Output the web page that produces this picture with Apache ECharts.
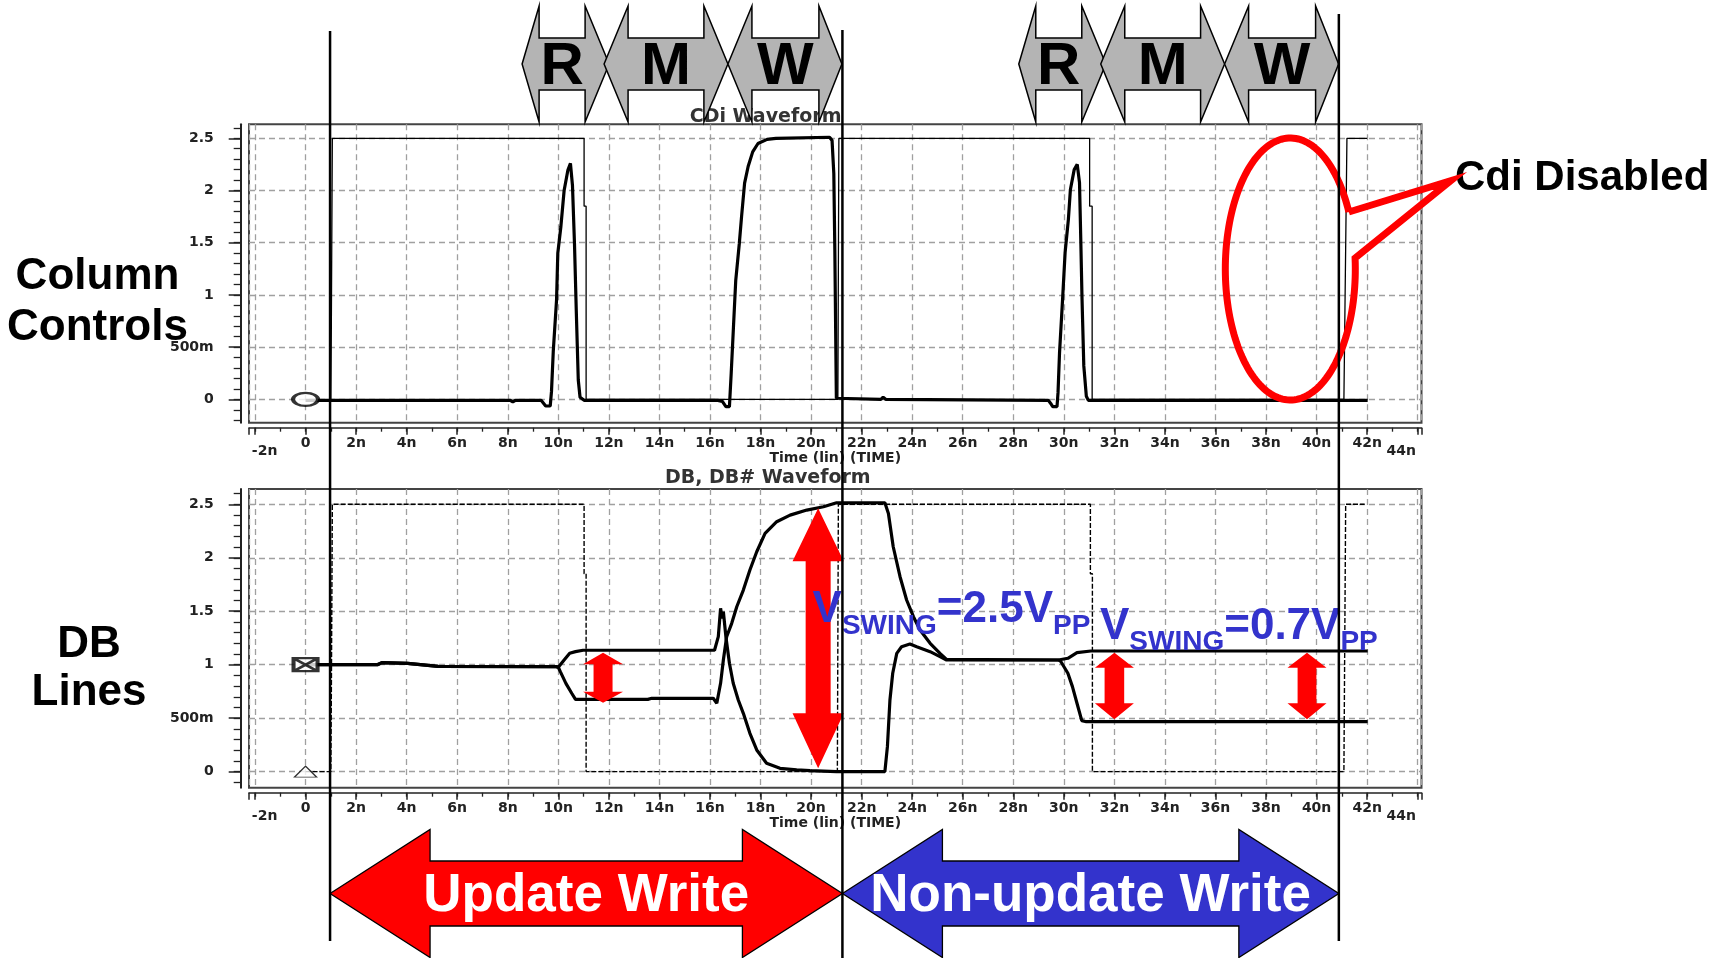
<!DOCTYPE html>
<html>
<head>
<meta charset="utf-8">
<script src="https://cdn.jsdelivr.net/npm/echarts@6.0.0/dist/echarts.min.js"></script>
<style>
html,body{margin:0;padding:0;background:#ffffff;}
#chart{width:1731px;height:958px;}
</style>
</head>
<body>
<div id="chart"></div>
<script>
// ---------------- axis ticks & labels ----------------
const xTickMajor = [-2,0,2,4,6,8,10,12,14,16,18,20,22,24,26,28,30,32,34,36,38,40,42,44];
const xTickLabels = [0,2,4,6,8,10,12,14,16,18,20,22,24,26,28,30,32,34,36,38,40,42];
const xTickMinor = [-2,-1,0,1,2,3,4,5,6,7,8,9,10,11,12,13,14,15,16,17,18,19,20,21,22,23,24,25,26,27,28,29,30,31,32,33,34,35,36,37,38,39,40,41,42,43,44];
const xEdgeLabelPos = [-1.62, 43.35];
const xEdgeLabelText = ['-2n', '44n'];
const yTickMajor = [0, 0.5, 1, 1.5, 2, 2.5];
const yTickMinorTop = [-0.2,-0.1,0,0.1,0.2,0.3,0.4,0.5,0.6,0.7,0.8,0.9,1,1.1,1.2,1.3,1.4,1.5,1.6,1.7,1.8,1.9,2,2.1,2.2,2.3,2.4,2.5,2.6];
const yTickMinorBottom = [-0.1,0,0.1,0.2,0.3,0.4,0.5,0.6,0.7,0.8,0.9,1,1.1,1.2,1.3,1.4,1.5,1.6,1.7,1.8,1.9,2,2.1,2.2,2.3,2.4,2.5,2.6];

// ---------------- texts ----------------
const panelTitles = ['CDi Waveform', 'DB, DB# Waveform'];
const xAxisTitle = 'Time (lin) (TIME)';
const sideLabels = [['Column', 'Controls'], ['DB', 'Lines']];
const calloutText = 'Cdi Disabled';
const phaseLetters = ['R', 'M', 'W'];
const writeLabels = ['Update Write', 'Non-update Write'];
const swingTexts = [['V', 'SWING', '=2.5V', 'PP'], ['V', 'SWING', '=0.7V', 'PP']];

// ---------------- series data: [time ns, volts] ----------------
const cdiReference = [[1.0,0],[1.02,0.68],[1.06,2.5],[11.02,2.5],[11.02,1.85],[11.1,1.85],[11.1,0],[21.06,0],[21.1,2.5],[31.02,2.5],[31.02,1.85],[31.12,1.85],[31.12,0],[41.08,0],[41.2,2.5],[42.0,2.5]];
const cdiSignal = [[0,-0.01],[8.1,-0.01],[8.2,-0.025],[8.3,-0.01],[9.32,-0.01],[9.5,-0.064],[9.68,-0.064],[9.73,0.073],[9.8,0.456],[9.93,0.951],[9.98,1.4],[10.1,1.65],[10.23,2.0],[10.38,2.196],[10.48,2.26],[10.56,2.05],[10.64,1.49],[10.71,0.855],[10.79,0.185],[10.86,0.02],[11.02,-0.01],[16.31,-0.01],[16.49,-0.02],[16.63,-0.07],[16.77,-0.07],[16.84,0.25],[16.93,0.695],[17.02,1.14],[17.16,1.49],[17.25,1.75],[17.37,2.07],[17.51,2.23],[17.69,2.37],[17.9,2.45],[18.26,2.49],[18.61,2.5],[20.73,2.51],[20.83,2.48],[20.9,2.16],[20.94,1.43],[21.0,0.01],[22.76,0.0],[22.85,0.02],[22.95,0.0],[29.39,-0.01],[29.48,-0.04],[29.56,-0.07],[29.73,-0.07],[29.77,0.064],[29.83,0.447],[29.95,0.958],[30.05,1.405],[30.18,1.724],[30.26,2.01],[30.41,2.2],[30.53,2.25],[30.62,2.075],[30.67,1.53],[30.72,0.958],[30.79,0.32],[30.89,0.03],[30.97,-0.01],[42.02,-0.01]];
const dbReference = [[0,0],[1.0,0],[1.02,0.68],[1.06,2.5],[11.02,2.5],[11.02,1.85],[11.1,1.85],[11.1,0],[21.04,0],[21.08,2.5],[31.05,2.5],[31.05,1.85],[31.13,1.85],[31.13,0],[41.08,0],[41.15,2.5],[41.9,2.5]];
const dbLine = [[0,1.0],[2.84,1.0],[3.02,1.02],[4.04,1.013],[5.25,0.985],[9.92,0.982],[10.0,0.976],[10.23,1.044],[10.45,1.107],[10.68,1.122],[10.98,1.135],[16.18,1.135],[16.33,1.262],[16.42,1.527],[16.48,1.433],[16.53,1.495],[16.63,1.262],[16.77,1.013],[16.92,0.826],[17.12,0.67],[17.32,0.545],[17.58,0.358],[17.85,0.203],[18.24,0.078],[18.77,0.031],[19.43,0.016],[19.96,0.01],[21.01,0.0],[22.92,0.0],[23.02,0.234],[23.12,0.67],[23.23,0.92],[23.39,1.106],[23.58,1.168],[23.91,1.193],[24.18,1.168],[24.71,1.122],[25.1,1.075],[25.36,1.044],[29.79,1.044],[30.16,1.06],[30.52,1.113],[31.07,1.128],[42.02,1.128]];
const dbBarLine = [[0,1.0],[2.84,1.0],[3.02,1.02],[4.04,1.013],[5.25,0.985],[9.92,0.982],[10.0,0.976],[10.08,0.935],[10.3,0.826],[10.53,0.733],[10.68,0.676],[13.54,0.676],[13.7,0.686],[16.13,0.686],[16.27,0.639],[16.33,0.623],[16.42,0.826],[16.53,1.044],[16.66,1.262],[16.86,1.387],[17.06,1.542],[17.32,1.698],[17.58,1.885],[17.85,2.056],[18.18,2.228],[18.64,2.337],[19.17,2.399],[19.83,2.446],[20.49,2.477],[21.01,2.514],[22.92,2.514],[23.06,2.414],[23.25,2.103],[23.52,1.823],[23.78,1.605],[24.05,1.449],[24.31,1.324],[24.71,1.2],[25.1,1.106],[25.36,1.05],[29.79,1.044],[29.88,1.03],[30.16,0.92],[30.34,0.795],[30.52,0.64],[30.71,0.477],[30.89,0.467],[42.02,0.467]];
const cdiStartMarker = [[0, 0]];
const dbStartMarker = [[0, 1]];
const dbRefStartMarker = [[0, 0]];

// ---------------- annotation anchors (data coords) ----------------
const cursorTimes = [0.97, 21.24, 40.88];
const rmwPhases = [[9.24, 11.06], [12.76, 15.76], [17.66, 20.31]];
const rmwGroupShift = [0, 19.65];
const swingArrows = [[11.77, 1.113, 0.645], [20.28, 2.463, 0.032], [32.0, 1.113, 0.49], [39.62, 1.113, 0.49]];
const swingLabelAnchors = [[20.06, 1.371], [31.43, 1.215]];
const disabledEllipseCenter = [38.96, 1.248];
const calloutTip = [45.31, 2.094];

// ---------------- layout constants ----------------
const X_MIN = -2.237, X_MAX = 44.15;
const Y_RANGE = [[-0.224, 2.634], [-0.15, 2.643]];
const GRIDS = [
  {left: 249, top: 124.3, width: 1172.5, height: 298.4},
  {left: 249, top: 489, width: 1172.5, height: 298.7}
];
const LABEL_FONT = {fontFamily: 'DejaVu Sans', fontWeight: 'bold', fontSize: 14, color: '#222'};
const fmtX = v => (Math.abs(v) < 1e-9 ? '0' : Math.round(v) + 'n');
const fmtY = v => (v === 0.5 ? '500m' : String(v));
const gridLine = {show: true, lineStyle: {color: '#a0a0a0', width: 1.3, type: [6, 4]}};

const xAxes = [], yAxes = [];
GRIDS.forEach((g, gi) => {
  xAxes.push({
    gridIndex: gi, type: 'value', min: X_MIN, max: X_MAX, position: 'bottom', offset: 5,
    axisLine: {show: true, onZero: false, lineStyle: {color: '#222', width: 1.5}},
    axisTick: {show: true, customValues: xTickMajor.concat([X_MIN, X_MAX]), length: 7, lineStyle: {color: '#222', width: 1.5}},
    axisLabel: Object.assign({show: true, customValues: xTickLabels, formatter: fmtX, margin: 9}, LABEL_FONT),
    splitLine: gridLine,
    name: xAxisTitle, nameLocation: 'middle', nameGap: 21,
    nameTextStyle: {fontFamily: 'DejaVu Sans', fontWeight: 'bold', fontSize: 14, color: '#222'}
  });
  xAxes.push({
    gridIndex: gi, type: 'value', min: X_MIN, max: X_MAX, position: 'bottom', offset: 5,
    axisLine: {show: false, onZero: false},
    axisTick: {show: true, customValues: xTickMinor, length: 4, lineStyle: {color: '#222', width: 1.3}},
    axisLabel: {show: false}, splitLine: {show: false}
  });
  xAxes.push({
    gridIndex: gi, type: 'value', min: X_MIN, max: X_MAX, position: 'bottom', offset: 5,
    axisLine: {show: false, onZero: false}, axisTick: {show: false},
    axisLabel: Object.assign({show: true, customValues: xEdgeLabelPos, formatter: v => (v < 0 ? xEdgeLabelText[0] : xEdgeLabelText[1]), margin: 16.5}, LABEL_FONT),
    splitLine: {show: false}
  });
  yAxes.push({
    gridIndex: gi, type: 'value', min: Y_RANGE[gi][0], max: Y_RANGE[gi][1], position: 'left', offset: 8.3,
    axisLine: {show: true, onZero: false, lineStyle: {color: '#222', width: 2}},
    axisTick: {show: true, customValues: yTickMajor, length: 12, lineStyle: {color: '#222', width: 1.5}},
    axisLabel: Object.assign({show: true, customValues: yTickMajor, formatter: fmtY, margin: 27}, LABEL_FONT),
    splitLine: gridLine
  });
  yAxes.push({
    gridIndex: gi, type: 'value', min: Y_RANGE[gi][0], max: Y_RANGE[gi][1], position: 'left', offset: 8.3,
    axisLine: {show: false, onZero: false},
    axisTick: {show: true, customValues: gi === 0 ? yTickMinorTop : yTickMinorBottom, length: 7, lineStyle: {color: '#222', width: 1.3}},
    axisLabel: {show: false}, splitLine: {show: false}
  });
});

const lineBase = {type: 'line', showSymbol: false, symbol: 'none', silent: true, animation: false};
const option = {
  backgroundColor: '#ffffff',
  animation: false,
  grid: GRIDS.map(g => Object.assign({show: true, borderColor: '#444', borderWidth: 2, backgroundColor: 'transparent', containLabel: false}, g)),
  xAxis: xAxes,
  yAxis: yAxes,
  series: [
    Object.assign({}, lineBase, {name: 'CDi ref', xAxisIndex: 0, yAxisIndex: 0, data: cdiReference, z: 2, lineStyle: {color: '#000', width: 1.3}}),
    Object.assign({}, lineBase, {name: 'CDi', xAxisIndex: 0, yAxisIndex: 0, data: cdiSignal, z: 3, lineStyle: {color: '#000', width: 3.2}}),
    {type: 'scatter', xAxisIndex: 0, yAxisIndex: 0, data: cdiStartMarker, symbol: 'circle', symbolSize: [25, 13], silent: true, z: 4,
     itemStyle: {color: '#ffffff', borderColor: '#000', borderWidth: 3}},
    Object.assign({}, lineBase, {name: 'DB ref', xAxisIndex: 3, yAxisIndex: 2, data: dbReference, z: 2, lineStyle: {color: '#000', width: 1.4, type: [5, 2]}}),
    Object.assign({}, lineBase, {name: 'DB', xAxisIndex: 3, yAxisIndex: 2, data: dbLine, z: 3, lineStyle: {color: '#000', width: 3.2}}),
    Object.assign({}, lineBase, {name: 'DB#', xAxisIndex: 3, yAxisIndex: 2, data: dbBarLine, z: 3, lineStyle: {color: '#000', width: 3.2}}),
    {type: 'scatter', xAxisIndex: 3, yAxisIndex: 2, data: dbStartMarker, symbol: 'path://M0,0L24,0L24,13L0,13Z M0,0L24,13 M24,0L0,13', symbolSize: [24, 13], silent: true, z: 4,
     itemStyle: {color: '#ffffff', borderColor: '#000', borderWidth: 3}},
    {type: 'scatter', xAxisIndex: 3, yAxisIndex: 2, data: dbRefStartMarker, symbol: 'triangle', symbolSize: [22, 11], silent: true, z: 4,
     itemStyle: {color: '#ffffff', borderColor: '#000', borderWidth: 1.3}}
  ]
};

const chart = echarts.init(document.getElementById('chart'), null, {renderer: 'canvas'});
chart.setOption(option);

// ---------------- annotations ----------------
const P = (g, t, v) => chart.convertToPixel({gridIndex: g}, [t, v]);
const X = t => chart.convertToPixel({xAxisIndex: 0}, t);
const mctx = document.createElement('canvas').getContext('2d');
const textWidth = (s, font) => { mctx.font = font; return mctx.measureText(s).width; };
const ARIAL = '"Liberation Sans", Arial, sans-serif';

function txt(s, x, y, font, fill, align, z) {
  return {type: 'text', x: x, y: y, z: z || 60, silent: true,
    style: {text: s, font: font, fill: fill, align: align || 'center', verticalAlign: 'middle', textAlign: align || 'center', textVerticalAlign: 'middle'}};
}
function hArrow(xl, xr, cy, hwL, hwR, headHalf, bodyHalf) {
  return [[xl, cy], [xl + hwL, cy - headHalf], [xl + hwL, cy - bodyHalf], [xr - hwR, cy - bodyHalf], [xr - hwR, cy - headHalf],
          [xr, cy], [xr - hwR, cy + headHalf], [xr - hwR, cy + bodyHalf], [xl + hwL, cy + bodyHalf], [xl + hwL, cy + headHalf]];
}
function vArrow(cx, yt, yb, headHalf, shaftHalf, hlT, hlB) {
  return [[cx, yt], [cx + headHalf, yt + hlT], [cx + shaftHalf, yt + hlT], [cx + shaftHalf, yb - hlB], [cx + headHalf, yb - hlB],
          [cx, yb], [cx - headHalf, yb - hlB], [cx - shaftHalf, yb - hlB], [cx - shaftHalf, yt + hlT], [cx - headHalf, yt + hlT]];
}

const els = [];
// panel titles
els.push(txt(panelTitles[0], 765.6, 116.7, 'bold 19px "DejaVu Sans"', '#333', 'center', 40));
els.push(txt(panelTitles[1], 767.8, 478, 'bold 19px "DejaVu Sans"', '#333', 'center', 40));

// side labels
els.push(txt(sideLabels[0][0], 97.5, 276.8, 'bold 44px ' + ARIAL, '#000'));
els.push(txt(sideLabels[0][1], 97.5, 327.8, 'bold 44px ' + ARIAL, '#000'));
els.push(txt(sideLabels[1][0], 89, 644.8, 'bold 44px ' + ARIAL, '#000'));
els.push(txt(sideLabels[1][1], 89, 692.8, 'bold 44px ' + ARIAL, '#000'));

// R / M / W phase arrows
const RMW_CY = 64, RMW_HEAD = 58, RMW_BODY = 26;
rmwGroupShift.forEach(shift => {
  rmwPhases.forEach((ph, i) => {
    const lb = X(ph[0] + shift), rb = X(ph[1] + shift);
    const hwL = i === 0 ? 17 : 24;
    const hwR = i === rmwPhases.length - 1 ? 23 : 24;
    els.push({type: 'polygon', z: 50, silent: true, shape: {points: hArrow(lb - hwL, rb + hwR, RMW_CY, hwL, hwR, RMW_HEAD, RMW_BODY)},
      style: {fill: '#b4b4b4', stroke: '#000', lineWidth: 1.5}});
    els.push(txt(phaseLetters[i], (lb + rb) / 2, 67.5, 'bold 60px ' + ARIAL, '#000', 'center', 55));
  });
});

// Update / Non-update write arrows
const cx = cursorTimes.map(X);
const WA_CY = 893.5;
els.push({type: 'polygon', z: 50, silent: true, shape: {points: hArrow(cx[0], cx[1], WA_CY, 100, 100, 64, 32.5)},
  style: {fill: '#ff0000', stroke: '#000', lineWidth: 1.3}});
els.push({type: 'polygon', z: 50, silent: true, shape: {points: hArrow(cx[1], cx[2], WA_CY, 100, 100, 64, 32.5)},
  style: {fill: '#3333cc', stroke: '#000', lineWidth: 1.3}});
els.push(txt(writeLabels[0], (cx[0] + cx[1]) / 2, 896.6, 'bold 53px ' + ARIAL, '#ffffff', 'center', 55));
els.push(txt(writeLabels[1], (cx[1] + cx[2]) / 2, 896.6, 'bold 53px ' + ARIAL, '#ffffff', 'center', 55));

// red swing arrows inside DB panel
const arrowSizes = [[20, 9.5, 11.5, 11], [25.6, 12.5, 53, 55], [19.5, 9.8, 15, 16], [19.5, 9.4, 15, 16]];
swingArrows.forEach((a, i) => {
  const top = P(1, a[0], a[1]), bot = P(1, a[0], a[2]);
  const s = arrowSizes[i];
  els.push({type: 'polygon', z: 45, silent: true, shape: {points: vArrow(top[0], top[1], bot[1], s[0], s[1], s[2], s[3])},
    style: {fill: '#ff0000'}});
});

// V_SWING labels
const BIG = 'bold 44px ' + ARIAL, SMALL = 'bold 28px ' + ARIAL;
swingLabelAnchors.forEach((anc, li) => {
  const p = P(1, anc[0], anc[1]);
  let x = p[0];
  swingTexts[li].forEach((piece, k) => {
    const big = k % 2 === 0;
    const fs = big ? 44 : 28;
    const baseline = p[1] + (big ? 0 : 10.5);
    const font = big ? BIG : SMALL;
    els.push(txt(piece, x, baseline - 0.3465 * fs, font, '#3333cc', 'left', 70));
    x += textWidth(piece, font);
  });
});

// "Cdi Disabled" ellipse callout (speech-bubble outline)
const ec = P(0, disabledEllipseCenter[0], disabledEllipseCenter[1]);
const rx = 65, ry = 131;
const dyU = -57, dyL = -11;
const thU = Math.asin(dyU / ry), thL = Math.asin(dyL / ry);
const tip = P(0, calloutTip[0], calloutTip[1]);
const bubble = [[ec[0] + rx * Math.cos(thU), ec[1] + ry * Math.sin(thU)], [tip[0], tip[1]]];
const NSEG = 160;
for (let k = 0; k <= NSEG; k++) {
  const th = thL + (thU + 2 * Math.PI - thL) * k / NSEG;
  bubble.push([ec[0] + rx * Math.cos(th), ec[1] + ry * Math.sin(th)]);
}
els.push({type: 'polyline', z: 65, silent: true, shape: {points: bubble},
  style: {fill: null, stroke: '#ff0000', lineWidth: 7, lineJoin: 'miter'}});
els.push(txt(calloutText, 1455, 178.7, 'bold 42px ' + ARIAL, '#000', 'left', 60));

// cursor lines
const cursorSpans = [[31, 941], [30, 958], [14, 941]];
cx.forEach((x, i) => {
  els.push({type: 'line', z: 80, silent: true, shape: {x1: x, y1: cursorSpans[i][0], x2: x, y2: cursorSpans[i][1]},
    style: {stroke: '#000', lineWidth: 2.5}});
});

chart.setOption({graphic: els});
</script>
</body>
</html>
